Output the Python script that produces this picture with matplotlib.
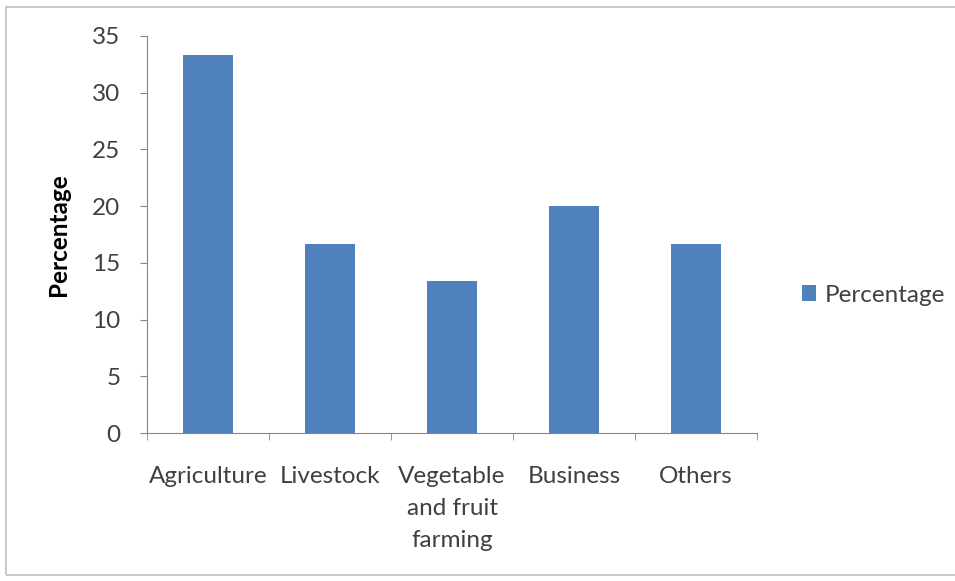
import matplotlib
matplotlib.use("Agg")
import matplotlib.pyplot as plt
from matplotlib.patches import Rectangle

categories = ["Agriculture", "Livestock", "Vegetable\nand fruit\nfarming", "Business", "Others"]
percentage = [33.3, 16.7, 13.4, 20.0, 16.7]
yticks = [0, 5, 10, 15, 20, 25, 30, 35]

plt.rcParams['font.family'] = ['Lato', 'DejaVu Sans']
bar_color = "#4f81bd"
axis_color = "#868686"
text_color = "#404040"
fs = 17.5

fig = plt.figure(figsize=(9.55, 5.81), dpi=100)
ax = fig.add_axes([147 / 955, 1 - 433 / 581, 610 / 955, 397 / 581])

x = list(range(len(categories)))
ax.bar(x, percentage, width=0.41, color=bar_color, label="Percentage")

ax.set_xlim(-0.5, len(categories) - 0.5)
ax.set_ylim(0, 35)
ax.set_yticks(yticks)
ax.set_yticklabels([str(t) for t in yticks], fontsize=fs, color=text_color)

ax.set_xticks(x)
ax.set_xticklabels(categories, fontsize=fs, color=text_color, linespacing=1.65, va="top")
ax.tick_params(axis="x", length=0, pad=24)
ax.set_xticks([i - 0.5 for i in range(len(categories) + 1)], minor=True)
ax.tick_params(axis="x", which="minor", length=5, color=axis_color, direction="out")
ax.tick_params(axis="y", length=5, color=axis_color, direction="out", pad=14)

for s in ["top", "right"]:
    ax.spines[s].set_visible(False)
ax.spines["left"].set_color(axis_color)
ax.spines["bottom"].set_color(axis_color)

ax.set_ylabel("Percentage", fontsize=17.5, fontweight="bold", color="black", labelpad=16)

ax.legend(loc="center left", bbox_to_anchor=(780 / 955, 1 - 295 / 581), bbox_transform=fig.transFigure,
          frameon=False, fontsize=fs, handlelength=0.6, handleheight=0.6, handletextpad=0.35,
          labelcolor=text_color)

# outer frame
fig.patches.append(Rectangle((6 / 955, 6 / 581), 1.2, 1 - 13 / 581, transform=fig.transFigure,
                             fill=False, edgecolor="#bfbfbf", linewidth=1.2))

fig.savefig("out.png", dpi=100)
